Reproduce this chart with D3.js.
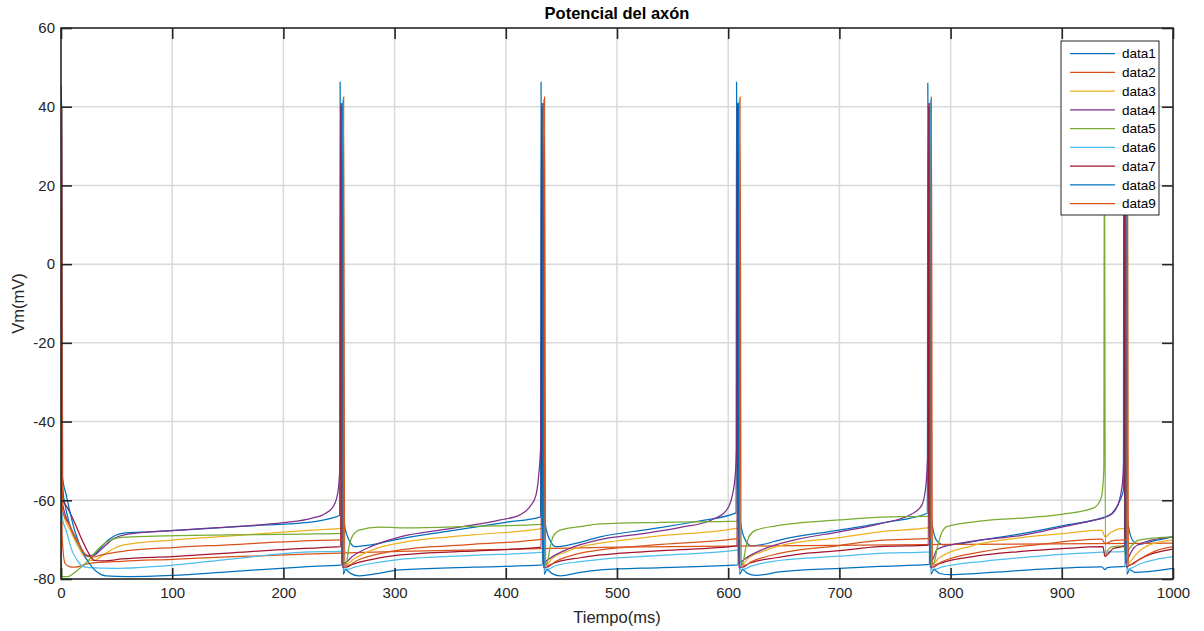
<!DOCTYPE html>
<html>
<head>
<meta charset="utf-8">
<script src="https://cdn.jsdelivr.net/npm/d3@7/dist/d3.min.js"></script>
<style>
  html, body { margin: 0; padding: 0; background: #fff; }
  svg { display: block; font-family: "Liberation Sans", Arial, Helvetica, sans-serif; }
</style>
</head>
<body>
<svg id="chart" width="1204" height="631"></svg>
<script>
// Membrane potential traces, [time (ms), Vm (mV)] keypoints per compartment
const data1 = [[0,-66],[0.3,45.2],[1.2,-56],[5,-63],[12,-69.5],[18,-72.8],[25,-74.3],[32,-73.2],[42,-70.2],[55,-68.4],[80,-68],[120,-67.4],[170,-66.5],[219,-65.7],[245,-64.4],[250.6,-63.8],
  [251,46.3],[252.5,-57],[255.2,-66.7],[259.7,-70.5],[264,-71.8],[271,-71.6],[285,-71],[305,-69.8],[350,-67.8],[400,-65.6],[431.3,-64.2],
  [431.7,46.3],[433.2,-57],[435.9,-66.7],[440.4,-70.5],[445,-71.8],[452,-71.6],[465,-70.8],[485,-69.3],[530,-67.3],[575,-65.2],[607.1,-63.2],
  [607.5,46.3],[609,-57],[611.7,-66.7],[616.2,-70.5],[621,-71.6],[630,-71.3],[646,-70.1],[700,-67.6],[740,-65.7],[779.1,-63.3],
  [779.5,46],[781,-57],[783.7,-66.7],[788.2,-70.5],[795,-71.4],[805,-71.2],[830,-70],[864,-68.5],[900,-66.5],[942,-63.9],[948,-62.3],[952,-60.2],[955.4,-57.5],
  [955.8,46],[957.3,-57],[960,-66.7],[964.5,-70.5],[970,-71.2],[980,-70.5],[1000,-69.3]];

const data2 = [[0,-66],[0.3,39.7],[1,-69.2],[3.6,-76],[8,-76.9],[12.6,-77],[24.6,-76.1],[55,-75.5],[100,-75],[150,-74.4],[219,-73.7],[305,-73],[431,-72.3],[500,-71.9],[640,-71.6],[800,-71.2],[1000,-70.9]];

const data3 = [[0,-66],[0.5,40],[1.3,-62.5],[8,-67.5],[15,-71.5],[20,-74],[25,-75.3],[30,-75.2],[40,-73.5],[55,-71.4],[100,-70.1],[150,-69.1],[219,-67.7],[253.2,-67.1],
  [253.6,41.5],[254.5,-76],[258,-76],[263,-75],[280,-72.6],[305,-70.8],[370,-68.8],[434,-67.1],
  [434.3,41.5],[435.2,-76],[438,-76],[441,-75],[455,-73],[467,-71.8],[485,-70.9],[540,-69],[610,-67],
  [610.1,41.5],[611,-76],[614,-76],[617,-75],[631,-73],[646,-71.6],[700,-69.5],[736,-68],[782,-66.9],
  [782.1,41.5],[783,-76],[786,-75.8],[789,-74.8],[820,-71.5],[864,-69.5],[900,-68.5],[936,-67.6],[939,-69.3],[944,-68.2],[950,-67.4],[958.2,-67],
  [958.4,41.5],[959.3,-76],[962,-75.5],[966,-74],[980,-71.2],[1000,-70.1]];

const data4 = [[0,-66],[0.6,40],[1.5,-61],[8,-66.5],[16,-71],[22,-73.8],[28,-74.2],[36,-72.5],[46,-70],[60,-68.6],[100,-67.7],[150,-66.8],[200,-65.7],[225,-64.6],[238,-63.3],[245,-61.5],[249,-58],[251,-50],
  [251.6,40],[252.5,-76],[256,-75.8],[262,-74.3],[280,-71.6],[305,-69.3],[350,-67.2],[395,-65],[412.8,-63.7],[422,-61.5],[427,-58.8],[429.2,-54.8],[431.5,-45],
  [432.3,40],[433.2,-76],[436,-75.5],[441,-74.5],[455,-72.5],[485,-70],[520,-68.6],[557,-66.9],[585,-65],[598,-62.7],[603.5,-59],[606.5,-53],[607.7,-45],
  [608.1,40],[609,-76],[612,-75.5],[617,-74.5],[631,-72.5],[661,-70],[700,-68],[736,-66],[765,-63.5],[774,-61.3],[777.5,-57],[779.7,-46],
  [780.1,40],[781,-76],[784,-75],[788,-72.4],[820,-70.4],[864,-68.9],[900,-66.8],[930,-65],[942,-64],[948,-62.5],[952,-59.8],[955,-54],[956,-46],
  [956.4,40],[957.3,-76],[960,-74.5],[965,-72],[975,-70.6],[1000,-69.3]];

const data5 = [[0,-66],[0.8,-79.4],[6,-79.4],[12,-78.4],[18,-77],[25,-75.2],[32,-72.8],[40,-70.8],[55,-69.4],[85,-69.1],[150,-68.8],[219,-68.6],[251.9,-68.4],
  [252.4,40],[253.3,-76.5],[256.5,-76],[259,-71.8],[261.7,-69.3],[268,-67.6],[286,-66.8],[305,-67],[360,-66.7],[432.6,-66.1],
  [433.1,40],[434,-76.5],[437,-76],[440,-71.8],[442.4,-69.3],[449,-67.6],[467,-66.7],[485,-66],[540,-65.6],[608.4,-65.3],
  [608.9,40],[609.8,-76.5],[613,-76],[616,-71.8],[618.5,-69.3],[625,-67.6],[643,-66.5],[700,-65],[736,-64.3],[780.4,-64],
  [780.9,40],[781.8,-76.5],[785,-76],[788,-72],[791,-69],[796.5,-66.7],[826,-65.3],[870,-64.4],[901,-63.5],[928,-62],[932,-61.2],[935.8,-59],[937.8,-52],
  [938.3,40],[939.2,-74],[941,-72.8],[946,-71.8],[956,-71.6],[957.2,-74],[960,-72.6],[965,-70.9],[969,-70.1],[1000,-69.3]];

const data6 = [[0,-66],[0.5,41],[1,-64.2],[5,-68],[9.6,-72.6],[14,-75],[18.6,-76.6],[25,-77.1],[48,-77.3],[100,-76.5],[150,-75],[219,-73.2],[253,-72.9],
  [253.4,42],[254.3,-77.5],[258,-77.5],[264,-77],[280,-76],[305,-75],[370,-74],[433.7,-73.2],
  [434.1,42],[435,-77.5],[438,-77.5],[444,-76.7],[467,-75.6],[485,-75],[540,-74],[609.5,-72.6],
  [609.9,42],[610.8,-77.5],[614,-77.5],[620,-76.8],[646,-75.3],[700,-74.2],[736,-73.5],[781.5,-73.1],
  [781.9,42],[782.8,-77.5],[786,-77.5],[792,-77],[830,-75.5],[880,-74.2],[936,-73.2],[958,-73],
  [958.2,42],[959.1,-77.5],[962,-77.3],[970,-76.2],[985,-75],[1000,-74.3]];

const data7 = [[0,-66],[0.4,40],[1.2,-59.5],[6,-62],[12,-65.5],[18,-69.5],[24,-73],[30,-75.3],[38,-75.4],[55,-74.9],[100,-74.3],[150,-73.4],[219,-72.2],[251.6,-71.8],
  [252,41],[252.9,-77],[256,-77],[262,-76.3],[280,-75],[305,-73.9],[360,-73],[431.8,-71.9],
  [432.7,41],[433.6,-77],[437,-77],[443,-76],[467,-74.6],[485,-73.9],[540,-72.8],[608,-71.6],
  [608.5,41],[609.4,-77],[613,-77],[619,-76],[643,-74.6],[661,-73.8],[700,-72.8],[736,-71.8],[780,-71.4],
  [780.5,41],[781.4,-77],[784,-77],[789,-76.2],[820,-74.3],[864,-73],[900,-72.3],[937,-71.8],[938.8,-74.3],[941,-73.8],[946,-72.3],[956.4,-71.6],
  [956.8,41],[957.7,-77],[961,-76.5],[967,-75.5],[980,-73.7],[1000,-72.4]];

const data8 = [[0,-66],[0.4,42],[0.8,-53],[5,-59],[12.6,-68],[21.6,-74.3],[28,-77],[33.6,-78.5],[40,-79.2],[60,-79.4],[100,-79.1],[150,-78.2],[219,-76.9],[252.4,-76.4],
  [252.8,41],[253.7,-78.8],[256,-77.6],[260,-78.5],[268,-79.2],[280,-78.8],[305,-77.7],[370,-77],[433,-76.4],
  [433.5,41],[434.4,-78.8],[437,-77.6],[441,-78.5],[449,-79.2],[467,-78.3],[485,-77.7],[540,-77.1],[609,-76.4],
  [609.3,41],[610.2,-78.8],[613,-77.6],[617,-78.5],[625,-79.1],[646,-78.2],[700,-77.3],[736,-76.8],[781,-76.3],
  [781.3,41],[782.2,-78.8],[785,-77.6],[790,-78.6],[800,-78.9],[864,-77.8],[936,-76.9],[938.7,-77.6],[941,-77.1],[957,-76.8],
  [957.6,41],[958.5,-78.8],[961,-77.6],[966,-78.3],[975,-78.2],[1000,-77.3]];

const data9 = [[0,-66],[0.5,39.7],[1.2,-62.5],[8,-66.5],[15,-70.5],[22,-73.8],[28,-74.5],[35,-74],[55,-73],[100,-72],[150,-71.3],[219,-70.3],[253.8,-70],
  [254.2,42.7],[255.1,-76.5],[259,-76.5],[265,-75.5],[280,-74],[305,-72.6],[370,-71.2],[434.5,-69.8],
  [434.9,42.7],[435.8,-76.5],[439,-76.5],[445,-75.5],[467,-73.4],[485,-72.6],[540,-71.2],[610.3,-69.6],
  [610.7,42.7],[611.6,-76.5],[615,-76.5],[621,-75.6],[646,-73.5],[700,-71.5],[736,-70.2],[782.3,-69.7],
  [782.7,42.7],[783.6,-76.5],[787,-76.3],[793,-75.5],[830,-73],[880,-71.2],[936,-69.9],[939,-71],[945,-70.3],[958.6,-70],
  [959,42.7],[959.9,-76.5],[963,-76.3],[970,-75],[985,-72.8],[1000,-71.8]];

const seriesNames = ["data1","data2","data3","data4","data5","data6","data7","data8","data9"];
const seriesData = [data1, data2, data3, data4, data5, data6, data7, data8, data9];
const seriesColors = ["#0072BD","#D95319","#EDB120","#7E2F8E","#77AC30","#4DBEEE","#A2142F","#0072BD","#D95319"];
const xTicks = [0,100,200,300,400,500,600,700,800,900,1000];
const yTicks = [-80,-60,-40,-20,0,20,40,60];

(function draw() {
  const svg = d3.select("#chart");
  const pL = 61, pR = 1173, pT = 28, pB = 579;
  const x = d3.scaleLinear().domain([0, 1000]).range([pL, pR]);
  const y = d3.scaleLinear().domain([-80, 60]).range([pB, pT]);
  const axisColor = "#262626";
  const fmt = d => String(d);   // plain hyphen-minus for negative labels

  // grid
  const grid = svg.append("g");
  grid.selectAll("line.gx").data(xTicks.slice(1, -1)).join("line")
    .attr("x1", d => x(d)).attr("x2", d => x(d)).attr("y1", pT).attr("y2", pB)
    .attr("stroke", "#d9d9d9").attr("stroke-width", 1.5);
  grid.selectAll("line.gy").data(yTicks.slice(1, -1)).join("line")
    .attr("y1", d => y(d)).attr("y2", d => y(d)).attr("x1", pL).attr("x2", pR)
    .attr("stroke", "#d9d9d9").attr("stroke-width", 1.5);

  // traces
  svg.append("clipPath").attr("id", "plotClip").append("rect")
    .attr("x", pL).attr("y", pT).attr("width", pR - pL).attr("height", pB - pT);
  const line = d3.line().x(d => x(d[0])).y(d => y(d[1])).curve(d3.curveMonotoneX);
  svg.append("g").attr("clip-path", "url(#plotClip)")
    .selectAll("path").data(seriesData).join("path")
    .attr("d", line).attr("fill", "none")
    .attr("stroke", (d, i) => seriesColors[i]).attr("stroke-width", 1.25)
    .attr("stroke-linejoin", "round");

  // axes with inward ticks on all four sides
  const tickLen = 11;
  function styleAxis(g) {
    g.selectAll(".domain").remove();
    g.selectAll(".tick line").attr("stroke", axisColor).attr("stroke-width", 1.6);
    g.selectAll(".tick text").attr("fill", axisColor).attr("font-size", 15)
      .attr("font-family", "Liberation Sans, Arial, sans-serif");
  }
  svg.append("g").attr("transform", `translate(0,${pB})`)
    .call(d3.axisBottom(x).tickValues(xTicks).tickSizeInner(-tickLen).tickSizeOuter(0).tickPadding(8).tickFormat(fmt))
    .call(styleAxis);
  svg.append("g").attr("transform", `translate(0,${pT})`)
    .call(d3.axisTop(x).tickValues(xTicks).tickSizeInner(-tickLen).tickSizeOuter(0).tickFormat(""))
    .call(styleAxis);
  svg.append("g").attr("transform", `translate(${pL},0)`)
    .call(d3.axisLeft(y).tickValues(yTicks).tickSizeInner(-tickLen).tickSizeOuter(0).tickPadding(6).tickFormat(fmt))
    .call(styleAxis);
  svg.append("g").attr("transform", `translate(${pR},0)`)
    .call(d3.axisRight(y).tickValues(yTicks).tickSizeInner(-tickLen).tickSizeOuter(0).tickFormat(""))
    .call(styleAxis);
  svg.append("rect").attr("x", pL).attr("y", pT).attr("width", pR - pL).attr("height", pB - pT)
    .attr("fill", "none").attr("stroke", axisColor).attr("stroke-width", 1.6);

  // title and axis labels
  svg.append("text").attr("x", (pL + pR) / 2).attr("y", 19).attr("text-anchor", "middle")
    .attr("font-size", 16.5).attr("font-weight", "bold").attr("fill", "#000").text("Potencial del axón");
  svg.append("text").attr("x", (pL + pR) / 2).attr("y", 623).attr("text-anchor", "middle")
    .attr("font-size", 16.5).attr("fill", axisColor).text("Tiempo(ms)");
  svg.append("text").attr("transform", `translate(24,${(pT + pB) / 2}) rotate(-90)`).attr("text-anchor", "middle")
    .attr("font-size", 16.5).attr("fill", axisColor).text("Vm(mV)");

  // legend
  const lg = svg.append("g");
  lg.append("rect").attr("x", 1061).attr("y", 41).attr("width", 98).attr("height", 174)
    .attr("fill", "#fff").attr("stroke", axisColor).attr("stroke-width", 1);
  const items = lg.selectAll("g.item").data(seriesNames).join("g")
    .attr("transform", (d, i) => `translate(0,${53.7 + i * 18.75})`);
  items.append("line").attr("x1", 1070).attr("x2", 1115).attr("y1", 0).attr("y2", 0)
    .attr("stroke", (d, i) => seriesColors[i]).attr("stroke-width", 1.25);
  items.append("text").attr("x", 1122).attr("y", 0).attr("dy", "0.35em")
    .attr("font-size", 13.5).attr("fill", "#000").text(d => d);
})();
</script>
</body>
</html>
